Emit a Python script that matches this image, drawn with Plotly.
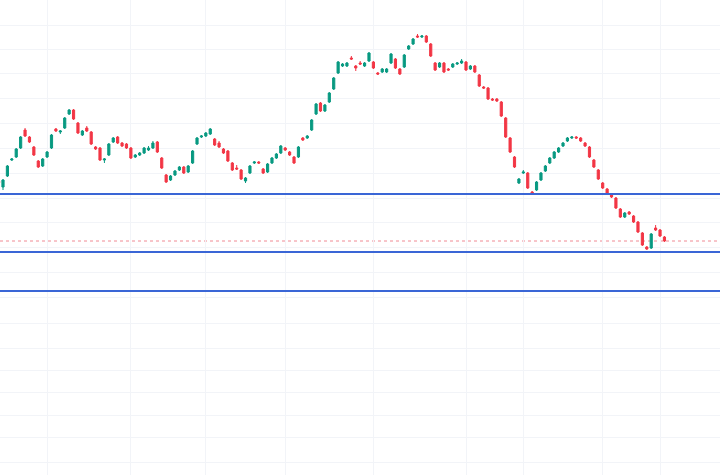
import plotly.graph_objects as go

# candle values (arbitrary price units, one candle per session)
opens = [319, 313, 324, 340, 343, 352, 370, 363, 353, 339,
         334, 343, 352, 371, 368, 372, 386, 390, 377, 365,
         372, 368, 353, 352, 340, 345, 358, 363, 357, 356,
         352, 343, 345, 347, 350, 352, 358, 342, 325, 320,
         325, 330, 333, 328, 337, 356, 363, 364, 366, 361,
         357, 351, 349, 337, 332, 330, 319, 327, 337, 338,
         331, 328, 337, 342, 347, 352, 348, 343, 343, 362,
         362, 370, 386, 397, 389, 398, 411, 427, 434, 434,
         442, 434, 437, 434, 439, 438, 427, 428, 428, 437,
         441, 431, 433, 451, 456, 464, 463, 464, 456, 437,
         433, 437, 431, 433, 436, 437, 438, 431, 434, 425,
         413, 412, 401, 401, 398, 382, 362, 343, 317, 327,
         327, 308, 310, 320, 329, 337, 342, 348, 354, 359,
         362, 363, 362, 357, 353, 340, 330, 317, 311, 306,
         302, 291, 283, 288, 284, 278, 267, 253, 252, 272,
         270, 263]
closes = [317, 320, 334, 341, 351, 363, 364, 358, 345, 333,
          341, 348, 365, 369, 369, 382, 390, 381, 367, 369,
          369, 356, 351, 340, 341, 356, 362, 357, 354, 352,
          342, 345, 347, 352, 352, 357, 348, 332, 318, 324,
          329, 333, 327, 334, 349, 362, 364, 367, 371, 355,
          353, 347, 339, 330, 331, 321, 322, 334, 338, 337,
          327, 336, 342, 346, 354, 350, 345, 337, 353, 360,
          364, 380, 396, 389, 395, 407, 422, 438, 436, 437,
          441, 432, 436, 437, 447, 432, 426, 431, 431, 446,
          432, 426, 445, 454, 461, 463, 464, 458, 444, 430,
          437, 428, 430, 436, 437, 439, 430, 434, 428, 414,
          412, 401, 400, 399, 384, 363, 348, 333, 321, 328,
          312, 307, 318, 327, 334, 342, 348, 352, 357, 362,
          363, 362, 359, 354, 343, 333, 321, 312, 307, 303,
          292, 283, 287, 286, 278, 268, 255, 251, 266, 270,
          264, 259]
highs = [320, 321, 335, 342, 352, 364, 372, 364, 354, 340,
         342, 349, 366, 372, 370, 383, 391, 391, 378, 370,
         374, 369, 354, 353, 342, 357, 363, 364, 358, 357,
         353, 346, 348, 353, 354, 359, 359, 343, 326, 325,
         330, 334, 334, 335, 350, 363, 365, 368, 372, 362,
         359, 352, 350, 338, 335, 331, 323, 335, 339, 339,
         332, 337, 343, 347, 355, 353, 349, 344, 354, 363,
         365, 381, 397, 398, 396, 408, 423, 439, 437, 438,
         444, 435, 439, 438, 448, 439, 428, 432, 432, 447,
         442, 432, 446, 455, 462, 466, 465, 465, 457, 438,
         438, 438, 432, 437, 438, 441, 439, 435, 435, 426,
         414, 413, 402, 402, 399, 383, 363, 344, 322, 330,
         328, 309, 319, 328, 335, 343, 349, 353, 358, 363,
         364, 364, 363, 358, 354, 341, 331, 318, 312, 307,
         303, 292, 288, 289, 285, 279, 268, 254, 267, 275,
         271, 264]
lows = [316, 310, 323, 339, 342, 351, 363, 357, 344, 332,
        333, 342, 351, 368, 366, 371, 385, 380, 366, 364,
        368, 355, 350, 339, 337, 344, 357, 356, 353, 351,
        341, 342, 344, 346, 349, 351, 347, 331, 317, 319,
        324, 329, 326, 327, 336, 355, 362, 363, 365, 354,
        352, 346, 338, 329, 330, 320, 317, 326, 336, 336,
        326, 327, 336, 341, 346, 349, 344, 336, 342, 359,
        361, 369, 385, 388, 388, 397, 410, 426, 433, 433,
        440, 429, 435, 433, 438, 431, 425, 427, 427, 436,
        431, 425, 432, 450, 455, 462, 462, 457, 443, 429,
        432, 427, 429, 432, 435, 436, 429, 430, 427, 413,
        411, 400, 399, 398, 383, 362, 347, 332, 316, 326,
        311, 306, 309, 319, 328, 336, 341, 347, 353, 358,
        361, 361, 358, 353, 342, 332, 320, 311, 306, 302,
        291, 282, 282, 285, 277, 267, 254, 250, 251, 269,
        263, 258]
sessions = list(range(len(opens)))

# horizontal levels drawn on the chart
levels = [306, 248, 209]
last_price = closes[-1]

fig = go.Figure(go.Candlestick(
    x=sessions, open=opens, high=highs, low=lows, close=closes,
    increasing=dict(line=dict(color="#089981", width=1), fillcolor="#089981"),
    decreasing=dict(line=dict(color="#f23645", width=1), fillcolor="#f23645"),
    whiskerwidth=0,
    hoverinfo="skip",
))

for lvl in levels:
    fig.add_hline(y=lvl, line=dict(color="#3a66d6", width=2))

fig.add_hline(y=last_price, line=dict(color="#f08a94", width=1, dash="dot"), layer="below")

fig.update_layout(
    width=720, height=475,
    margin=dict(l=0, r=0, t=0, b=0),
    plot_bgcolor="white", paper_bgcolor="white",
    showlegend=False,
    boxgap=0.3,
    xaxis=dict(
        range=[0.32, 163.6],
        rangeslider=dict(visible=False),
        tickvals=[11, 30, 47, 65, 85, 106, 119, 137, 150],
        showticklabels=False,
        showgrid=True, gridcolor="#f2f4f8", gridwidth=1,
        zeroline=False, showline=False,
    ),
    yaxis=dict(
        range=[25, 500],
        tickvals=[475, 451, 427, 402, 377, 352, 327, 302, 278, 253,
                  228, 203, 177, 152, 130, 108, 85, 63, 38],
        showticklabels=False,
        showgrid=True, gridcolor="#f2f4f8", gridwidth=1,
        zeroline=False, showline=False,
    ),
)

# page body has a default 8px margin, drop it so the chart sits at the corner
fig.write_html("out.html", config={"displayModeBar": False},
               post_script="document.body.style.margin='0';")
